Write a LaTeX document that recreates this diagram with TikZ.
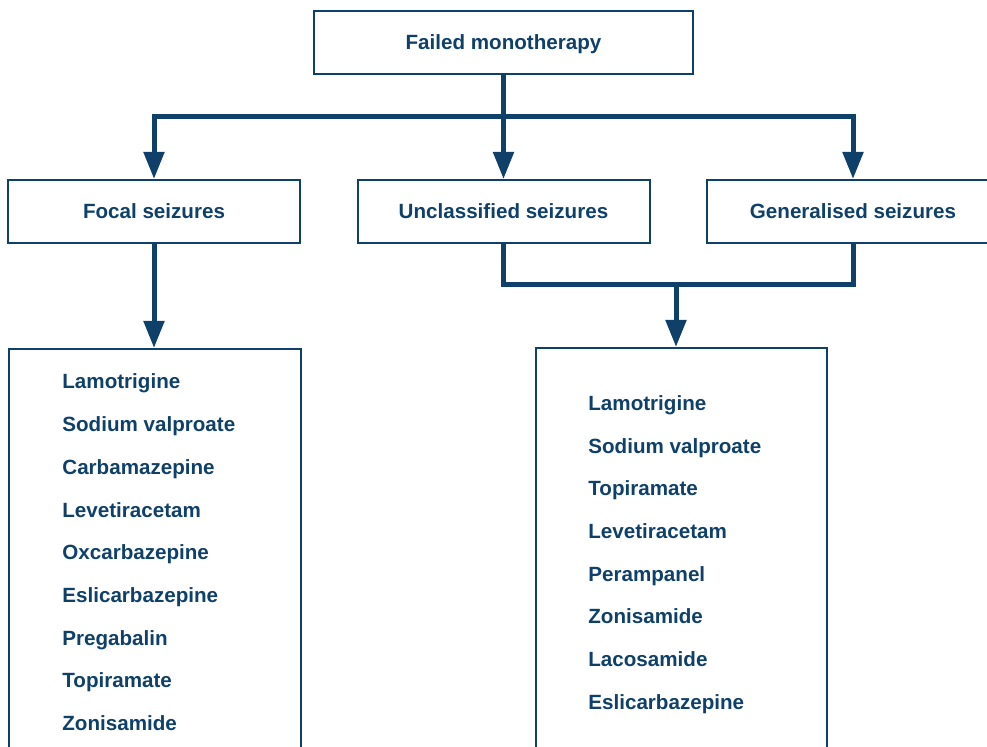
\documentclass[tikz,border=0pt]{standalone}
\usepackage{fontspec}
\setmainfont{Liberation Sans}
\usetikzlibrary{arrows.meta}
\definecolor{navy}{RGB}{14,64,106}
\tikzset{
  box/.style={draw=navy,line width=1pt,minimum width=146pt,minimum height=31.5pt,
    text height=7.4pt,text depth=0pt,inner sep=0pt},
  listbox/.style={draw=navy,line width=1pt,anchor=north west,minimum width=146pt,
    minimum height=230pt,inner sep=0pt},
  drug/.style={anchor=base west,inner sep=0pt},
  link/.style={draw=navy,line width=2.5pt},
  flow/.style={link,-{Triangle[width=10pt,length=13.5pt]}},
}
\begin{document}
\begin{tikzpicture}[x=0.5pt,y=-0.5pt,font=\bfseries\fontsize{10.3}{12}\selectfont,text=navy]
            \useasboundingbox (0,0) rectangle (987,747);
            \clip (0,0) rectangle (987,747);
            \node[box,minimum width=189.5pt] (mono) at (503.5,42.5) {Failed monotherapy};
            \node[box] (focal) at (154,211.5) {Focal seizures};
            \node[box] (unclass) at (503.5,211.5) {Unclassified seizures};
            \node[box] (general) at (853,211.5) {Generalised seizures};
            \node[listbox] (focaldrugs) at (8,348) {};
            \node[listbox,minimum width=145.5pt] (gendrugs) at (534.5,347) {};
            \coordinate (split) at (503.5,117);
            \coordinate (join) at (676,285);
            % top split
            \draw[link] (mono.south) -- (split);
            \draw[flow] (split) -| (focal.north);
            \draw[flow] (split) -- (unclass.north);
            \draw[flow] (split) -| (general.north);
            % bottom links
            \draw[flow] (focal.south) -- (focaldrugs.north -| focal.south);
            \draw[link] (unclass.south) |- (join) -| (general.south);
            \draw[flow] (join) -- (join |- gendrugs.north);
            % focal list
            \node[drug] (f1) at (62,389) {Lamotrigine};
            \node[drug] (f2) at (62,432) {Sodium valproate};
            \node[drug] (f3) at (62,475) {Carbamazepine};
            \node[drug] (f4) at (62,518) {Levetiracetam};
            \node[drug] (f5) at (62,560) {Oxcarbazepine};
            \node[drug] (f6) at (62,603) {Eslicarbazepine};
            \node[drug] (f7) at (62,646) {Pregabalin};
            \node[drug] (f8) at (62,688) {Topiramate};
            \node[drug] (f9) at (62,731) {Zonisamide};
            % generalised / unclassified list
            \node[drug] (g1) at (588,411) {Lamotrigine};
            \node[drug] (g2) at (588,454) {Sodium valproate};
            \node[drug] (g3) at (588,496) {Topiramate};
            \node[drug] (g4) at (588,539) {Levetiracetam};
            \node[drug] (g5) at (588,582) {Perampanel};
            \node[drug] (g6) at (588,624) {Zonisamide};
            \node[drug] (g7) at (588,667) {Lacosamide};
            \node[drug] (g8) at (588,710) {Eslicarbazepine};
\end{tikzpicture}
\end{document}
